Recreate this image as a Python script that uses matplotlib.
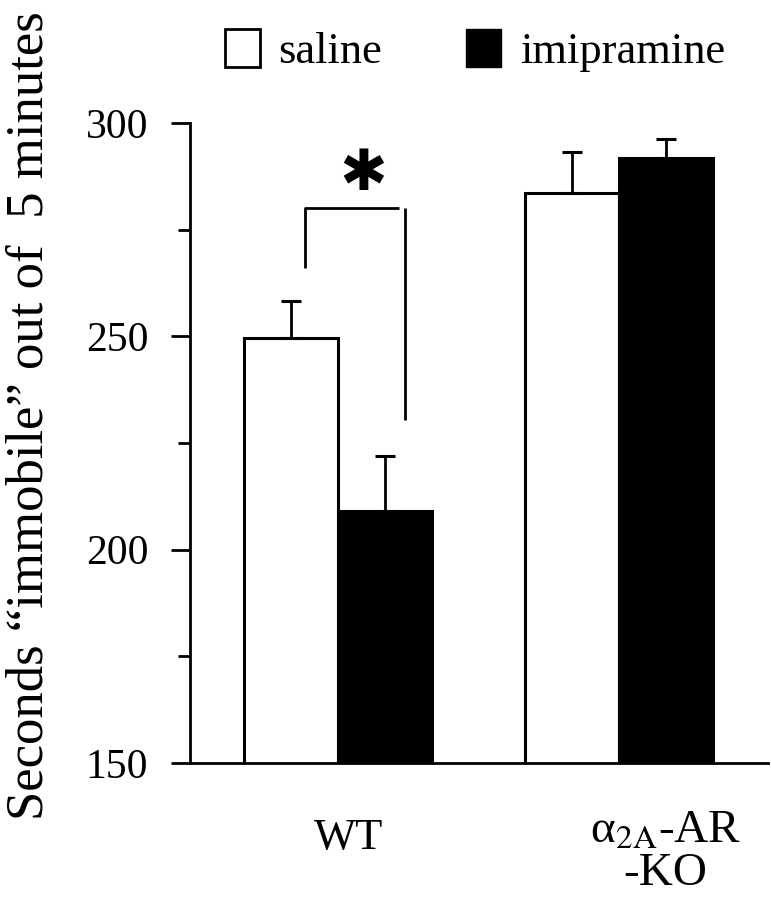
import matplotlib
matplotlib.use("Agg")
import matplotlib.pyplot as plt
from matplotlib.patches import Patch

groups = ["WT", "α$_{\\mathrm{2A}}$-AR\n-KO"]
saline = [249.5, 283.7]
saline_err = [8.7, 9.5]
imipramine = [209.0, 291.7]
imipramine_err = [13.0, 4.5]
yticks = [150, 200, 250, 300]
yminor = [175, 225, 275]

plt.rcParams["font.family"] = ["Liberation Serif", "DejaVu Serif"]
plt.rcParams["mathtext.fontset"] = "stix"

fig = plt.figure(figsize=(7.71, 8.99), dpi=100)
ax = fig.add_axes([190 / 771, 1 - 763 / 899, 578 / 771, 640 / 899])

w = 0.335
x = [0, 1]
xs = [p - w / 2 for p in x]
xi = [p + w / 2 for p in x]

ax.bar(xs, saline, width=w, color="white", edgecolor="black", linewidth=2.2, zorder=2)
ax.bar(xi, imipramine, width=w, color="black", edgecolor="black", linewidth=2.2, zorder=2)
ax.errorbar(xs, saline, yerr=[[0, 0], saline_err], fmt="none", ecolor="black",
            elinewidth=2, capsize=7, capthick=2.2, zorder=3)
ax.errorbar(xi, imipramine, yerr=[[0, 0], imipramine_err], fmt="none", ecolor="black",
            elinewidth=2, capsize=7, capthick=2.2, zorder=3)

# significance bracket between WT saline and WT imipramine
bl = xs[0] + 0.05
br = xi[0] + 0.07
ax.plot([bl, bl, br - 0.02], [266, 280, 280], color="black", lw=2, solid_capstyle="butt")
ax.plot([br, br], [280, 230.5], color="black", lw=2, solid_capstyle="butt")
ax.text((bl + br) / 2 + 0.03, 288, "✱", family="DejaVu Sans", fontsize=41,
        ha="center", va="center")

ax.set_xlim(-0.527, 1.53)
ax.set_ylim(150, 300)
ax.set_yticks(yticks)
ax.set_yticks(yminor, minor=True)
ax.tick_params(axis="y", which="major", length=14, width=2, labelsize=30, pad=16)
ax.tick_params(axis="y", which="minor", length=9, width=2)
ax.set_xticks([])
for s in ["top", "right"]:
    ax.spines[s].set_visible(False)
for s in ["left", "bottom"]:
    ax.spines[s].set_linewidth(2)

# group labels under the axis
ax.text(0.036, -0.117, groups[0], transform=ax.get_xaxis_transform(), fontsize=32,
        ha="center", va="center")
ax.text(1.165, -0.14, groups[1], transform=ax.get_xaxis_transform(), fontsize=34,
        ha="center", va="center", linespacing=0.98)

fig.text(30 / 771, 1 - 416 / 899, "Seconds “immobile” out of  5 minutes", rotation=90,
         fontsize=38, ha="center", va="center")

handles = [Patch(facecolor="white", edgecolor="black", linewidth=2, label="saline"),
           Patch(facecolor="black", edgecolor="black", label="imipramine")]
fig.legend(handles=handles, loc="center", bbox_to_anchor=(0.616, 0.944), ncol=2,
           frameon=False, fontsize=32, handlelength=0.78, handleheight=0.95,
           handletextpad=0.42, columnspacing=1.9)

fig.savefig("out.png", dpi=100)
